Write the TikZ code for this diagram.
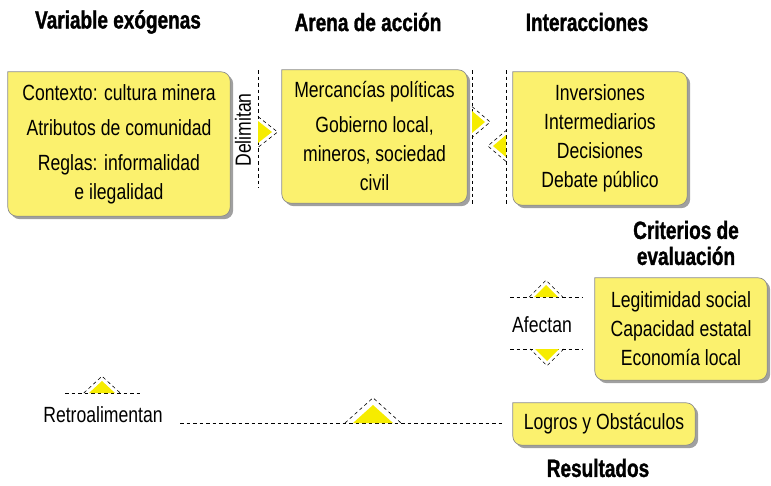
\documentclass[tikz,border=0pt]{standalone}
\usepackage{fontspec}
\setmainfont[FakeStretch=0.8]{Liberation Sans}
\newfontfamily\headfont[FakeStretch=0.76,FakeBold=1.2]{Liberation Sans}
\usetikzlibrary{backgrounds}
\definecolor{boxyellow}{RGB}{251,241,110}
\definecolor{triyellow}{RGB}{246,236,0}
\definecolor{boxedge}{RGB}{140,140,140}
\definecolor{boxshadow}{RGB}{160,160,160}

% fondo de las cajas amarillas (esquina superior izquierda recta)
\newcommand{\cajon}[1]{%
  \fill[boxshadow] ([shift={(3,3)}]#1.north) [rounded corners=9pt]
    -- ([shift={(3,3)}]#1.north east) -- ([shift={(3,3)}]#1.south east)
    -- ([shift={(3,3)}]#1.south west) [sharp corners]
    -- ([shift={(3,3)}]#1.north west) -- cycle;
  \filldraw[fill=boxyellow, draw=boxedge, line width=0.7pt] (#1.north) [rounded corners=9pt]
    -- (#1.north east) -- (#1.south east) -- (#1.south west) [sharp corners]
    -- (#1.north west) -- cycle;}

\begin{document}
\begin{tikzpicture}[x=1pt, y=-1pt,
    box node/.style={inner sep=0pt, align=center, font=\fontsize{22}{29}\selectfont},
    head node/.style={align=center, font=\headfont\bfseries\fontsize{25}{26}\selectfont},
    verb node/.style={font=\fontsize{22}{24}\selectfont},
    sep line/.style={line width=0.6pt, dash pattern=on 3.5pt off 3pt},
    pics/flecha/.style 2 args={code={
      \fill[triyellow] (0,-#2) -- (#1,0) -- (0,#2) -- cycle;
      \draw[sep line] (0,-#2*1.4) -- (#1*1.4,0) -- (0,#2*1.4);
    }}]
\useasboundingbox (0,0) rectangle (771,485);

% titulos
\node[head node] (h1) at (118,22) {Variable exógenas};
\node[head node] (h2) at (368,22) {Arena de acción};
\node[head node] (h3) at (587,22) {Interacciones};
\node[head node] (h4) at (686,243) {Criterios de\\evaluación};
\node[head node] (h5) at (598,468) {Resultados};

% cajas
\node[box node, minimum width=222pt, minimum height=144pt] (ctx) at (119,144)
  {Contexto: cultura minera\\[6pt] Atributos de comunidad\\[6pt] Reglas: informalidad\\ e ilegalidad};
\node[box node, minimum width=185pt, minimum height=133pt] (arena) at (374.5,136.5)
  {Mercancías políticas\\[6pt] Gobierno local,\\ mineros, sociedad\\ civil};
\node[box node, minimum width=174pt, minimum height=133pt] (inter) at (600,138.5)
  {Inversiones\\ Intermediarios\\ Decisiones\\ Debate público};
\node[box node, minimum width=172pt, minimum height=102pt] (crit) at (681,329)
  {Legitimidad social\\ Capacidad estatal\\ Economía local};
\node[box node, minimum width=182pt, minimum height=42pt] (res) at (604,424)
  {Logros y Obstáculos};

\begin{scope}[on background layer]
  \foreach \n in {ctx,arena,inter,crit,res} {\cajon{\n}}
\end{scope}

% verbos
\node[verb node, rotate=90] (del) at (243,130) {Delimitan};
\node[verb node] (afe) at (542,325) {Afectan};
\node[verb node] (ret) at (103,415) {Retroalimentan};

% lineas punteadas
\coordinate (s1a) at (258,70);  \coordinate (s1b) at (258,188);
\coordinate (s2a) at (472,70);  \coordinate (s2b) at (472,205);
\coordinate (s3a) at (506,70);  \coordinate (s3b) at (506,205);
\coordinate (a1a) at (510,297); \coordinate (a1b) at (582,297);
\coordinate (a2a) at (510,349); \coordinate (a2b) at (582,349);
\coordinate (r1a) at (65,393);  \coordinate (r1b) at (140,393);
\coordinate (r2a) at (180,423);
\draw[sep line] (s1a) -- (s1b);
\draw[sep line] (s2a) -- (s2b);
\draw[sep line] (s3a) -- (s3b);
\draw[sep line] (a1a) -- (a1b);
\draw[sep line] (a2a) -- (a2b);
\draw[sep line] (r1a) -- (r1b);
\draw[sep line] (r2a) -- ([xshift=-8pt]res.west |- r2a);

% flechas
\pic at (258,132) {flecha={14}{11}};
\pic at (472,122) {flecha={13}{11}};
\pic[rotate=180] at (506,146) {flecha={13}{11}};
\pic[rotate=90] at (546,297) {flecha={12}{12}};
\pic[rotate=-90] at (547,349) {flecha={12}{12}};
\pic[rotate=90] at (102,393) {flecha={12}{13}};
\pic[rotate=90] at (373,423) {flecha={18}{20}};

\end{tikzpicture}
\end{document}
